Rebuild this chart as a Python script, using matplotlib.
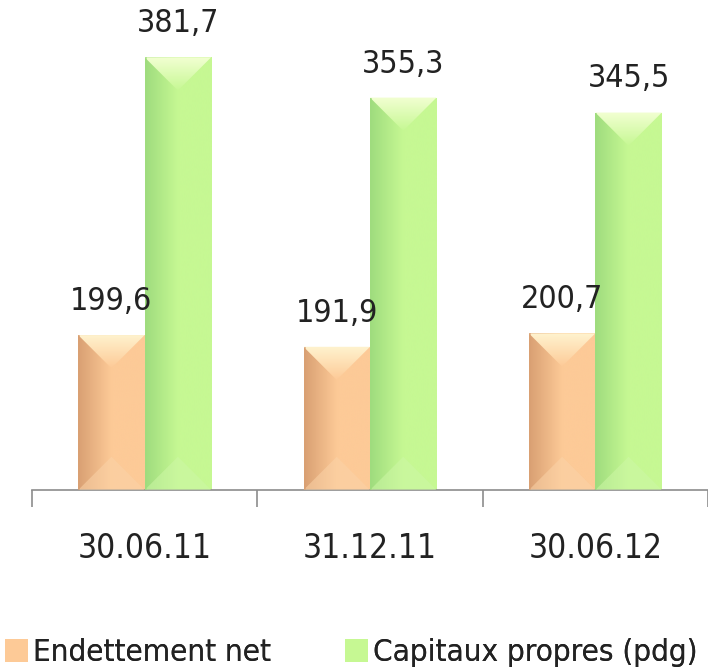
import numpy as np
import matplotlib
matplotlib.use("Agg")
import matplotlib.pyplot as plt
from matplotlib.patches import Rectangle, Polygon
from matplotlib.colors import LinearSegmentedColormap

categories = ["30.06.11", "31.12.11", "30.06.12"]
endettement = [199.6, 191.9, 200.7]
capitaux = [381.7, 355.3, 345.5]
series_names = ["Endettement net", "Capitaux propres (pdg)"]

plt.rcParams['font.family'] = ['DejaVu Sans']
plt.rcParams['font.stretch'] = 'condensed'

W, H = 708, 672
fig = plt.figure(figsize=(W / 100, H / 100), dpi=100)
ax = fig.add_axes([32 / W, (H - 490) / H, 676 / W, 485 / H])
ax.set_xlim(-0.5, 2.5)
ax.set_ylim(98, 416)
ymin = 98

for s in ['top', 'right', 'left']:
    ax.spines[s].set_visible(False)
ax.spines['bottom'].set_color('#8c8c8c')
ax.spines['bottom'].set_linewidth(1.2)
ax.set_yticks([])
ax.set_xticks([-0.5, 0.5, 1.5, 2.5])
ax.set_xticklabels([])
ax.tick_params(axis='x', which='major', length=12, color='#8c8c8c', width=1.2)
ax.set_xticks([0, 1, 2], minor=True)
ax.set_xticklabels(categories, minor=True, fontsize=24, color='#222222')
ax.tick_params(axis='x', which='minor', length=0, pad=30)

width = 0.295
x = np.arange(len(categories))

ppu_y = 485 / (416 - 98)
ppu_x = 676 / 3.0

styles = [
    dict(dark='#d9a073', light='#fdca97', cap='#fff3cf', base='#fbd3a8'),
    dict(dark='#9fdc7e', light='#c6f893', cap='#f2ffd2', base='#cdf7a6'),
]

def draw_bar(xc, val, st):
    x0, x1 = xc - width / 2, xc + width / 2
    rect = Rectangle((x0, ymin), width, val - ymin, facecolor='none', edgecolor='none')
    ax.add_patch(rect)
    cmap = LinearSegmentedColormap.from_list('g', [st['dark'], st['light'], st['light']])
    grad = np.linspace(0, 1, 100).reshape(1, -1)
    im = ax.imshow(grad, extent=[x0, x1, ymin, val], aspect='auto', cmap=cmap,
                   origin='lower', zorder=2, interpolation='bicubic')
    im.set_clip_path(rect)
    depth = (width * ppu_x / 2) / ppu_y
    tri = Polygon([(x0, val), (x1, val), (xc, val - depth)], closed=True,
                  facecolor='none', edgecolor='none')
    ax.add_patch(tri)
    cmap2 = LinearSegmentedColormap.from_list('c', [st['light'], st['cap']])
    g2 = np.linspace(0, 1, 100).reshape(-1, 1)
    im2 = ax.imshow(g2, extent=[x0, x1, val - depth, val], aspect='auto', cmap=cmap2,
                    origin='lower', zorder=3, interpolation='bicubic')
    im2.set_clip_path(tri)
    tri_b = Polygon([(x0, ymin), (x1, ymin), (xc, ymin + depth)], closed=True,
                    facecolor=st['base'], edgecolor='none', alpha=0.55, zorder=3)
    ax.add_patch(tri_b)
    ax.add_patch(Polygon([(x0, ymin), (x0, val), (x0 + width * 0.03, val), (x0 + width * 0.03, ymin)],
                         closed=True, facecolor=st['dark'], edgecolor='none', alpha=0.6, zorder=3))

for i in range(len(categories)):
    draw_bar(x[i] - width / 2, endettement[i], styles[0])
    draw_bar(x[i] + width / 2, capitaux[i], styles[1])
    for xc, v in [(x[i] - width / 2, endettement[i]), (x[i] + width / 2, capitaux[i])]:
        ax.annotate(f"{v:.1f}".replace('.', ','), xy=(xc, v), xytext=(0, 13),
                    textcoords='offset points', ha='center', va='bottom',
                    fontsize=23, color='#222222', annotation_clip=False)

handles = [Rectangle((0, 0), 1, 1, facecolor=styles[0]['light'], edgecolor='none'),
           Rectangle((0, 0), 1, 1, facecolor=styles[1]['light'], edgecolor='none')]
anchors = [0.0, 340 / W]
for h, name, a in zip(handles, series_names, anchors):
    leg = fig.legend([h], [name], loc='lower left', bbox_to_anchor=(a, 0.0),
                     frameon=False, fontsize=22.5, handlelength=0.75, handleheight=0.75,
                     handletextpad=0.15, borderpad=0.05, borderaxespad=0.1,
                     labelcolor='#222222')
    fig.add_artist(leg)

fig.savefig("out.png", dpi=100)
